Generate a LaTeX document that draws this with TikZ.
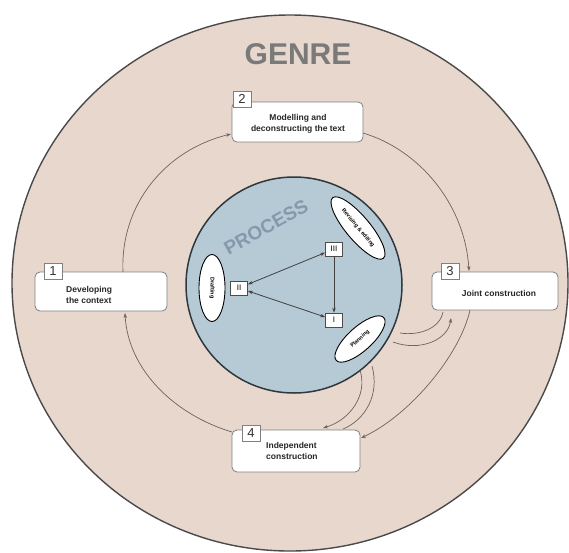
\documentclass[tikz,border=0pt]{standalone}
\usepackage{fontspec}
\setmainfont{Liberation Sans}
\usetikzlibrary{shapes.geometric,arrows.meta}
\definecolor{genrefill}{HTML}{E8D7CD}
\definecolor{genreline}{HTML}{4A4A4A}
\definecolor{procfill}{HTML}{B6CAD5}
\definecolor{procline}{HTML}{2E383E}
\definecolor{boxgray}{HTML}{808080}
\definecolor{ringcol}{HTML}{6E625A}
\definecolor{genretext}{HTML}{7A7A7A}
\definecolor{proctext}{HTML}{8599AC}
\tikzset{
  stagebox/.style={draw=boxgray, fill=white, rounded corners=5pt, line width=0.8pt, inner sep=0pt},
  numbox/.style={draw=boxgray, fill=white, line width=0.8pt, minimum width=18pt, minimum height=16pt, inner sep=0pt, text=black!80, font=\fontsize{13}{13}\selectfont},
  stagetext/.style={font=\bfseries\fontsize{8.5}{10.5}\selectfont, inner sep=0pt, text=black!85},
  romanbox/.style={draw=black!70, fill=white, line width=0.7pt, minimum width=17pt, minimum height=14pt, inner sep=0pt, font=\fontsize{8}{8}\selectfont},
  procell/.style={ellipse, draw=black, fill=white, line width=0.9pt, inner sep=0pt, font=\bfseries\fontsize{5.5}{6}\selectfont},
  cyc/.style={draw=ringcol, line width=0.7pt, -{Stealth[length=5pt,width=3.5pt]}},
  inarrow/.style={draw=black!75, line width=0.8pt},
}
\begin{document}
\begin{tikzpicture}[x=1pt,y=-1pt]
\useasboundingbox (0,0) rectangle (569,552);
\fill[white] (0,0) rectangle (569,552);
% genre ellipse
\filldraw[fill=genrefill, draw=genreline, line width=1.4pt] (290,283) ellipse [x radius=278, y radius=268];
\node[font=\bfseries\fontsize{30}{30}\selectfont, text=genretext] (genre) at (298,54) {GENRE};
% process circle
\filldraw[fill=procfill, draw=procline, line width=1.5pt] (294,285) circle [radius=108];
\node[font=\bfseries\fontsize{19}{19}\selectfont, text=proctext, rotate=29] (proc) at (266,227) {PROCESS};

% stage boxes
\node[stagebox, minimum width=132pt, minimum height=39pt] (b1) at (101,291.5) {};
\node[stagebox, minimum width=131pt, minimum height=40pt] (b2) at (297.5,122) {};
\node[stagebox, minimum width=126pt, minimum height=38pt] (b3) at (495,291) {};
\node[stagebox, minimum width=128pt, minimum height=42pt] (b4) at (296,451) {};
\node[numbox] (n1) at (53,271) {1};
\node[numbox] (n2) at (242,99) {2};
\node[numbox] (n3) at (450,271) {3};
\node[numbox] (n4) at (251,433) {4};
\node[stagetext, anchor=west, align=left] (t1) at (66,295) {Developing\\the context};
\node[stagetext, align=center] (t2) at (298,124) {Modelling and\\deconstructing the text};
\node[stagetext] (t3) at (499,293) {Joint construction};
\node[stagetext, anchor=west, align=left] (t4) at (266,451) {Independent\\construction};

% cycle ring
\coordinate (r1a) at (123,272);
\coordinate (r1b) at (231,134);
\coordinate (r2a) at (363,133);
\coordinate (r2b) at (469,271);
\coordinate (r3a) at (470,310);
\coordinate (r3b) at (361,438);
\coordinate (r4a) at (232,432);
\coordinate (r4b) at (125,313);
\draw[cyc] (r1a) .. controls (120,205) and (165,150) .. (r1b);
\draw[cyc] (r2a) .. controls (420,150) and (465,205) .. (r2b);
\draw[cyc] (r3a) .. controls (460,355) and (410,415) .. (r3b);
\draw[cyc] (r4a) .. controls (175,415) and (128,370) .. (r4b);

% process elements
\node[procell, minimum width=67pt, minimum height=26pt, rotate=-90] (draft) at (212,288) {Drafting};
\node[procell, minimum width=79pt, minimum height=24pt, rotate=-50] (revise) at (358,228) {Revising \& editing};
\node[procell, minimum width=64pt, minimum height=24pt, rotate=42] (plan) at (360,339) {Planning};
\node[romanbox] (rII) at (239,288) {II};
\node[romanbox] (rIII) at (334,249) {III};
\node[romanbox] (rI) at (334,320) {I};
\draw[inarrow, {Stealth[length=5pt,width=3.5pt]}-{Stealth[length=5pt,width=3.5pt]}] (rII) -- (rIII);
\draw[inarrow, {Stealth[length=5pt,width=3.5pt]}-{Stealth[length=5pt,width=3.5pt]}] (rII) -- (rI);
\draw[inarrow, -{Stealth[length=5pt,width=3.5pt]}] (rIII) -- (rI);

% planning links
\coordinate (p3a) at (393,342);
\coordinate (p3b) at (451,318);
\coordinate (p3c) at (400,333);
\coordinate (p3d) at (443,312);
\coordinate (p4a) at (360,370);
\coordinate (p4b) at (323,428);
\coordinate (p4c) at (372,366);
\coordinate (p4d) at (343,429);
\draw[cyc] (p3a) .. controls (420,352) and (448,340) .. (p3b);
\draw[cyc, -] (p3c) .. controls (420,336) and (440,328) .. (p3d);
\draw[cyc] (p4a) .. controls (368,395) and (350,420) .. (p4b);
\draw[cyc, -] (p4c) .. controls (380,395) and (365,420) .. (p4d);
\end{tikzpicture}
\end{document}
